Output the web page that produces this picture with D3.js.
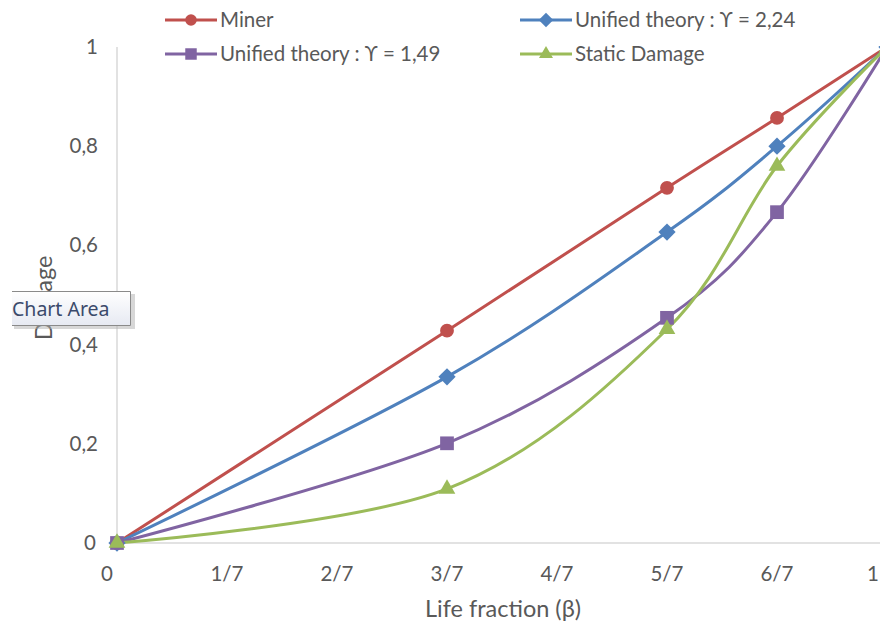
<!DOCTYPE html>
<html>
<head>
<meta charset="utf-8">
<script src="https://cdn.jsdelivr.net/npm/d3@7"></script>
<style>
  body { margin: 0; background: #fff; }
  svg { font-family: Lato, "Open Sans", sans-serif; }
</style>
</head>
<body>
<div id="graph"></div>
<script>
let W = 880, H = 626;
let margin = {left: 117, top: 47, right: -7, bottom: 83};
let fs = 20.5;
let titleFs = 23.5;

// data
let xValues = [0, 3/7, 5/7, 6/7, 1];
let miner = [0, 0.428, 0.716, 0.857, 1];
let unified224 = [0, 0.335, 0.627, 0.800, 1];
let unified149 = [0, 0.201, 0.454, 0.667, 1];
let staticDamage = [0, 0.109, 0.431, 0.760, 1];
let seriesNames = ["Miner", "Unified theory : ϒ = 2,24", "Unified theory : ϒ = 1,49", "Static Damage"];
let seriesColors = ["#C0504D", "#4F81BD", "#8064A2", "#9BBB59"];
let seriesMarkers = [d3.symbolCircle, d3.symbolDiamond2, d3.symbolSquare2, d3.symbolTriangle2];
let xTicks = [0, 1/7, 2/7, 3/7, 4/7, 5/7, 6/7, 1];
let xTickLabels = ["0", "1/7", "2/7", "3/7", "4/7", "5/7", "6/7", "1"];
let yTicks = [0, 0.2, 0.4, 0.6, 0.8, 1];
let yTickLabels = ["0", "0,2", "0,4", "0,6", "0,8", "1"];

let allSeries = [miner, unified224, unified149, staticDamage];

let svg = d3.select("#graph").append("svg")
  .attr("width", W).attr("height", H);

let x = d3.scaleLinear().domain([0, 1]).range([margin.left, W - margin.right]);
let y = d3.scaleLinear().domain([0, 1]).range([H - margin.bottom, margin.top]);

// axes lines
svg.append("line")
  .attr("x1", x(0)).attr("x2", W)
  .attr("y1", y(0)).attr("y2", y(0))
  .attr("stroke", "#d9d9d9").attr("stroke-width", 1.5);
svg.append("line")
  .attr("x1", x(0)).attr("x2", x(0))
  .attr("y1", y(0)).attr("y2", y(1))
  .attr("stroke", "#d9d9d9").attr("stroke-width", 1.5);

// x tick labels
svg.selectAll(".xt")
  .data(xTicks)
  .enter()
  .append("text")
  .attr("x", function(d, i) {
    if (i == 0) return x(d) - 10;
    if (i == xTicks.length - 1) return x(d) - 14;
    return x(d);
  })
  .attr("y", y(0) + 38)
  .attr("text-anchor", "middle")
  .attr("font-size", fs)
  .attr("fill", "#595959")
  .text(function(d, i) { return xTickLabels[i]; });

// y tick labels
svg.selectAll(".yt")
  .data(yTicks)
  .enter()
  .append("text")
  .attr("x", function(d) { return d == 0 ? 96 : 98; })
  .attr("y", function(d) { return y(d) + 7; })
  .attr("text-anchor", "end")
  .attr("font-size", fs)
  .attr("fill", "#595959")
  .text(function(d, i) { return yTickLabels[i]; });

// axis titles
svg.append("text")
  .attr("x", 503)
  .attr("y", 617)
  .attr("text-anchor", "middle")
  .attr("font-size", titleFs)
  .attr("fill", "#595959")
  .text("Life fraction (β)");
svg.append("text")
  .attr("transform", "translate(52,298) rotate(-90)")
  .attr("text-anchor", "middle")
  .attr("font-size", titleFs)
  .attr("fill", "#595959")
  .text("Damage");

// lines
let line = d3.line()
  .x(function(d, i) { return x(xValues[i]); })
  .y(function(d) { return y(d); })
  .curve(d3.curveCatmullRom.alpha(0));

allSeries.forEach(function(s, k) {
  svg.append("path")
    .attr("d", line(s))
    .attr("fill", "none")
    .attr("stroke", seriesColors[k])
    .attr("stroke-width", 3);
});

let markerSizes = [150, 190, 240, 200];
allSeries.forEach(function(s, k) {
  svg.selectAll(".m" + k)
    .data(s)
    .enter()
    .append("path")
    .attr("transform", function(d, i) { return "translate(" + x(xValues[i]) + "," + y(d) + ")"; })
    .attr("d", d3.symbol().type(seriesMarkers[k]).size(markerSizes[k]))
    .attr("fill", seriesColors[k]);
});

// legend
let legendPos = [[165, 20], [520, 20], [165, 54], [520, 54]];
seriesNames.forEach(function(name, k) {
  let lx = legendPos[k][0], ly = legendPos[k][1];
  svg.append("line")
    .attr("x1", lx).attr("x2", lx + 52)
    .attr("y1", ly).attr("y2", ly)
    .attr("stroke", seriesColors[k]).attr("stroke-width", 3);
  svg.append("path")
    .attr("transform", "translate(" + (lx + 26) + "," + ly + ")")
    .attr("d", d3.symbol().type(seriesMarkers[k]).size(markerSizes[k] * 0.7))
    .attr("fill", seriesColors[k]);
  svg.append("text")
    .attr("x", lx + 55)
    .attr("y", ly + 7)
    .attr("font-size", fs)
    .attr("fill", "#595959")
    .text(name);
});

// "Chart Area" tooltip
let defs = svg.append("defs");
let grad = defs.append("linearGradient").attr("id", "tipg")
  .attr("x1", 0).attr("y1", 0).attr("x2", 0).attr("y2", 1);
grad.append("stop").attr("offset", "0%").attr("stop-color", "#ffffff");
grad.append("stop").attr("offset", "100%").attr("stop-color", "#e6e9f2");
svg.append("rect")
  .attr("x", 14).attr("y", 294).attr("width", 121).attr("height", 35)
  .attr("fill", "#b0b0b0").attr("opacity", 0.5);
svg.append("rect")
  .attr("x", 12).attr("y", 291).attr("width", 119).attr("height", 35)
  .attr("fill", "url(#tipg)");
svg.append("path")
  .attr("d", "M12,291.5 H130.5 V325.5 H12")
  .attr("fill", "none").attr("stroke", "#8a8a8a");
svg.append("text")
  .attr("x", 12).attr("y", 316)
  .attr("font-family", "Noto Sans, sans-serif")
  .attr("font-size", 19.5)
  .attr("fill", "#3b4a6b")
  .text("Chart Area");
</script>
</body>
</html>
